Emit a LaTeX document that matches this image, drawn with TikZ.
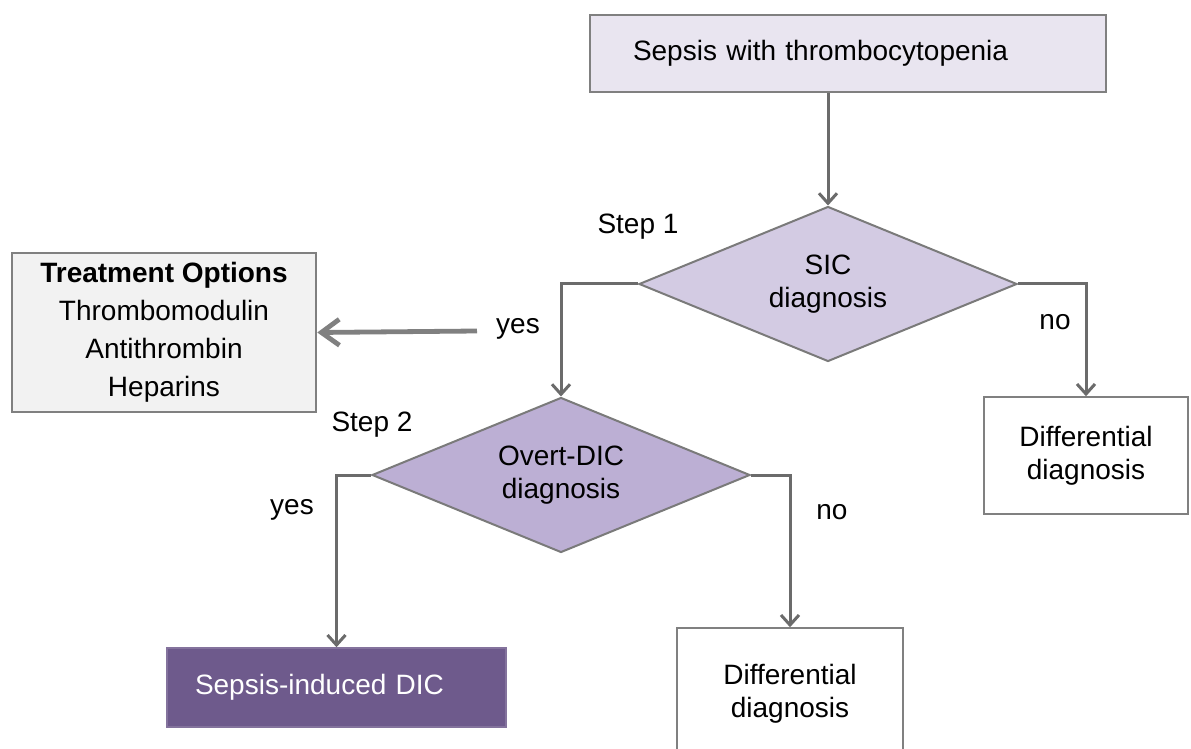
\documentclass[tikz,border=0pt]{standalone}
\usepackage{fontspec}
\setmainfont{Liberation Sans}
\usepackage{tikz}
\usetikzlibrary{shapes.geometric, arrows.meta, positioning}
\definecolor{linegray}{HTML}{6B6B6B}
\definecolor{bordergray}{HTML}{808080}
\definecolor{toplav}{HTML}{E9E5F0}
\definecolor{sicfill}{HTML}{D3CBE3}
\definecolor{dicfill}{HTML}{BCAFD4}
\definecolor{darkpurple}{HTML}{6E5A8C}
\definecolor{treatfill}{HTML}{F2F2F2}
\tikzstyle{line} = [draw=linegray, -{Straight Barb[length=5pt,width=9pt]}, line width=1.5pt]

\begin{document}
\begin{tikzpicture}[x=0.5pt, y=-0.5pt, font=\fontsize{14}{16.5}\selectfont]
  \tikzset{
    box/.style={
      rectangle,
      draw=bordergray,
      line width=0.75pt,
      fill=white,
      align=center,
      inner sep=0pt,
    },
    decision/.style={
      diamond,
      aspect=2.44,
      draw=linegray!90!white,
      line width=1pt,
      fill=#1,
      align=center,
      inner sep=0pt,
      minimum width=189pt,
      minimum height=77.5pt,
    },
    decision/.default=sicfill,
    tag/.style={inner sep=1pt}
  }

  \clip (0,0) rectangle (1191,749);
  \fill[white] (0,0) rectangle (1191,749);

  % boxes
  \node[box, fill=toplav, line width=1pt, text width=215pt, inner xsep=21.5pt,
        align=left, minimum height=38.5pt] (top) at (848,53.5) {Sepsis with thrombocytopenia};
  \node[decision] (sic) at (828,284) {SIC\\diagnosis};
  \node[decision=dicfill] (dic) at (561,475) {Overt-DIC\\diagnosis};
  \node[box, fill=treatfill, line width=1.25pt, minimum width=152pt, minimum height=79.5pt,
        font=\fontsize{14}{19}\selectfont] (treat) at (164,332.5)
        {\textbf{Treatment Options}\\Thrombomodulin\\Antithrombin\\Heparins};
  \node[box, minimum width=102pt, minimum height=58.5pt] (diffa) at (1086,455.5) {Differential\\diagnosis};
  \node[box, minimum width=113pt, minimum height=66pt] (diffb) at (790,694) {Differential\\diagnosis};
  \node[box, fill=darkpurple, draw=darkpurple!85!white, text=white, text width=141.5pt,
        inner xsep=14pt, align=left, minimum height=39.5pt] (sidic) at (336.5,687.5) {Sepsis-induced DIC};

  % labels
  \node[tag] (step1) at (638,227) {Step 1};
  \node[tag] (yesa) at (518,329) {yes};
  \node[tag] (noa) at (1055,322) {no};
  \node[tag] (step2) at (372,425) {Step 2};
  \node[tag] (yesb) at (292,510) {yes};
  \node[tag] (nob) at (832,512) {no};
  \coordinate (treatfrom) at (477,331);

  % connectors
  \draw[line] (sic.north |- top.south) -- (sic.north);
  \draw[line] (sic.west) -| (dic.north);
  \draw[line] (sic.east) -| (diffa.north);
  \draw[line, draw=bordergray, line width=2.4pt, -{Straight Barb[length=9pt,width=13pt]}]
    (treatfrom) -- (treat.east);
  \draw[line] (dic.west) -| (sidic.north);
  \draw[line] (dic.east) -| (diffb.north);
\end{tikzpicture}
\end{document}
